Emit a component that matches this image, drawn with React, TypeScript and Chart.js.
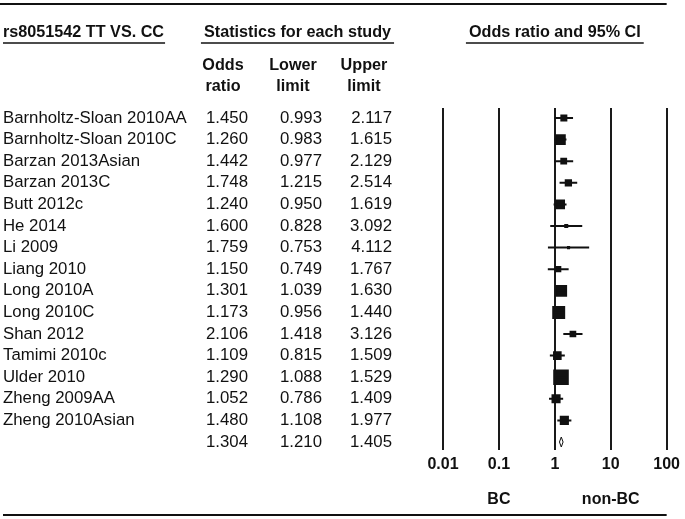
import React, { useEffect, useRef } from "react";
import { Chart, registerables } from "chart.js";

Chart.register(...registerables);

// ---------- data ----------
const studies = [
  "Barnholtz-Sloan 2010AA",
  "Barnholtz-Sloan 2010C",
  "Barzan 2013Asian",
  "Barzan 2013C",
  "Butt 2012c",
  "He 2014",
  "Li 2009",
  "Liang 2010",
  "Long 2010A",
  "Long 2010C",
  "Shan 2012",
  "Tamimi 2010c",
  "Ulder 2010",
  "Zheng 2009AA",
  "Zheng 2010Asian",
];
const oddsRatio = [1.45, 1.26, 1.442, 1.748, 1.24, 1.6, 1.759, 1.15, 1.301, 1.173, 2.106, 1.109, 1.29, 1.052, 1.48];
const lowerLimit = [0.993, 0.983, 0.977, 1.215, 0.95, 0.828, 0.753, 0.749, 1.039, 0.956, 1.418, 0.815, 1.088, 0.786, 1.108];
const upperLimit = [2.117, 1.615, 2.129, 2.514, 1.619, 3.092, 4.112, 1.767, 1.63, 1.44, 3.126, 1.509, 1.529, 1.409, 1.977];
// relative weights (%)
const relWeight = [3.89, 9.05, 3.67, 4.23, 7.84, 1.29, 0.77, 3.03, 11.0, 13.3, 3.57, 5.88, 19.27, 6.55, 6.65];
const summaryOR = 1.304;
const summaryLower = 1.21;
const summaryUpper = 1.405;

const xTicks = [0.01, 0.1, 1, 10, 100];
const xTickLabels = ["0.01", "0.1", "1", "10", "100"];
const favourTicks = [0.1, 10];
const favourLabels = ["BC", "non-BC"];

const titleLeft = "rs8051542 TT VS. CC";
const titleMiddle = "Statistics for each study";
const titleRight = "Odds ratio and 95% CI";
const colHeadTop = ["Odds", "Lower", "Upper"];
const colHeadBottom = ["ratio", "limit", "limit"];

// ---------- styling ----------
const FONT = "'Liberation Sans', Arial, Helvetica, sans-serif";
const INK = "#111";

const forestPlugin = {
  id: "forestTable",
  afterDraw(chart: any) {
    const ctx: CanvasRenderingContext2D = chart.ctx;
    const xs = chart.scales.x;
    const ys = chart.scales.y;
    const right = chart.chartArea.right;
    ctx.save();
    ctx.fillStyle = INK;
    ctx.strokeStyle = INK;

    // top & bottom rules
    ctx.lineWidth = 2;
    ctx.beginPath();
    ctx.moveTo(0, 4);
    ctx.lineTo(right, 4);
    ctx.moveTo(3, 515);
    ctx.lineTo(right, 515);
    ctx.stroke();

    // titles with underline
    ctx.font = `bold 16.2px ${FONT}`;
    ctx.textBaseline = "middle";
    const titles: [string, number][] = [
      [titleLeft, 3 + ctx.measureText(titleLeft).width / 2],
      [titleMiddle, 297.5],
      [titleRight, (chart.chartArea.left + right) / 2],
    ];
    ctx.lineWidth = 1.5;
    titles.forEach(([t, cx]) => {
      const w = ctx.measureText(t).width;
      ctx.textAlign = "center";
      ctx.fillText(t, cx, 33);
      const ext = t === titleLeft ? 1 : 3;
      ctx.beginPath();
      ctx.moveTo(cx - w / 2 - (t === titleLeft ? 0 : ext), 43);
      ctx.lineTo(cx + w / 2 + ext, 43);
      ctx.stroke();
    });

    // column headers
    const headCenters = [223, 293, 364];
    colHeadTop.forEach((t, i) => {
      ctx.textAlign = "center";
      ctx.fillText(t, headCenters[i], 66);
      ctx.fillText(colHeadBottom[i], headCenters[i], 87);
    });

    // rows
    ctx.font = `16.8px ${FONT}`;
    const numRight = [248, 322, 392];
    const rowCols = (vals: number[], y: number) => {
      ctx.textAlign = "right";
      vals.forEach((v, k) => ctx.fillText(v.toFixed(3), numRight[k], y));
    };
    studies.forEach((s, i) => {
      const y = ys.getPixelForValue(i);
      ctx.textAlign = "left";
      ctx.fillText(s, 3, y);
      rowCols([oddsRatio[i], lowerLimit[i], upperLimit[i]], y);
    });
    const ySum = ys.getPixelForValue(studies.length);
    rowCols([summaryOR, summaryLower, summaryUpper], ySum);

    // summary diamond
    const xl = xs.getPixelForValue(summaryLower);
    const xm = xs.getPixelForValue(summaryOR);
    const xu = xs.getPixelForValue(summaryUpper);
    ctx.fillStyle = "#fff";
    ctx.lineWidth = 1;
    ctx.beginPath();
    ctx.moveTo(xl, ySum);
    ctx.lineTo(xm, ySum - 5);
    ctx.lineTo(xu, ySum);
    ctx.lineTo(xm, ySum + 5);
    ctx.closePath();
    ctx.fill();
    ctx.stroke();
    ctx.restore();
  },
};

export default function App() {
  const ref = useRef<HTMLCanvasElement>(null);

  useEffect(() => {
    if (!ref.current) return;
    const ciData: any[] = [];
    studies.forEach((_, i) => {
      ciData.push({ x: lowerLimit[i], y: i });
      ciData.push({ x: upperLimit[i], y: i });
      ciData.push({ x: null, y: null });
    });
    const boxData = studies.map((_, i) => ({ x: oddsRatio[i], y: i }));
    const boxRadius = relWeight.map((w) => (3.55 * Math.sqrt(w)) / 2 / Math.SQRT1_2);

    const chart = new Chart(ref.current, {
      type: "scatter",
      data: {
        datasets: [
          {
            data: ciData,
            showLine: true,
            spanGaps: false,
            borderColor: INK,
            borderWidth: 2,
            pointRadius: 0,
            xAxisID: "x",
            yAxisID: "y",
          } as any,
          {
            data: boxData,
            pointStyle: "rect",
            pointRadius: boxRadius,
            backgroundColor: INK,
            borderWidth: 0,
            xAxisID: "x",
            yAxisID: "y",
          } as any,
        ],
      },
      options: {
        responsive: false,
        animation: false,
        events: [],
        layout: { padding: { left: 443, right: 17, top: 108, bottom: 9 } },
        plugins: { legend: { display: false }, tooltip: { enabled: false } },
        scales: {
          x: {
            type: "logarithmic",
            position: "bottom",
            weight: 0,
            min: 0.01,
            max: 100,
            afterBuildTicks: (s: any) => {
              s.ticks = xTicks.map((v) => ({ value: v }));
            },
            afterFit: (s: any) => {
              s.height = 30;
            },
            ticks: {
              autoSkip: false,
              maxRotation: 0,
              padding: 5,
              color: INK,
              font: { family: FONT, size: 16, weight: "bold" },
              callback: (_v: any, i: number) => xTickLabels[i],
            },
            grid: { color: "#1a1a1a", lineWidth: 2, drawTicks: false },
            border: { display: false },
          } as any,
          x2: {
            type: "logarithmic",
            position: "bottom",
            weight: 1,
            min: 0.01,
            max: 100,
            afterBuildTicks: (s: any) => {
              s.ticks = favourTicks.map((v) => ({ value: v }));
            },
            afterFit: (s: any) => {
              s.height = 30;
            },
            ticks: {
              autoSkip: false,
              maxRotation: 0,
              padding: 2,
              color: INK,
              font: { family: FONT, size: 16, weight: "bold" },
              callback: (_v: any, i: number) => favourLabels[i],
            },
            grid: { display: false },
            border: { display: false },
          } as any,
          y: {
            type: "linear",
            reverse: true,
            min: -0.463,
            max: 15.37,
            display: false,
          },
        },
      },
      plugins: [forestPlugin],
    });
    return () => chart.destroy();
  }, []);

  return (
    <canvas
      ref={ref}
      width={685}
      height={519}
      style={{ position: "absolute", left: 0, top: 0, display: "block", background: "#fff" }}
    />
  );
}
